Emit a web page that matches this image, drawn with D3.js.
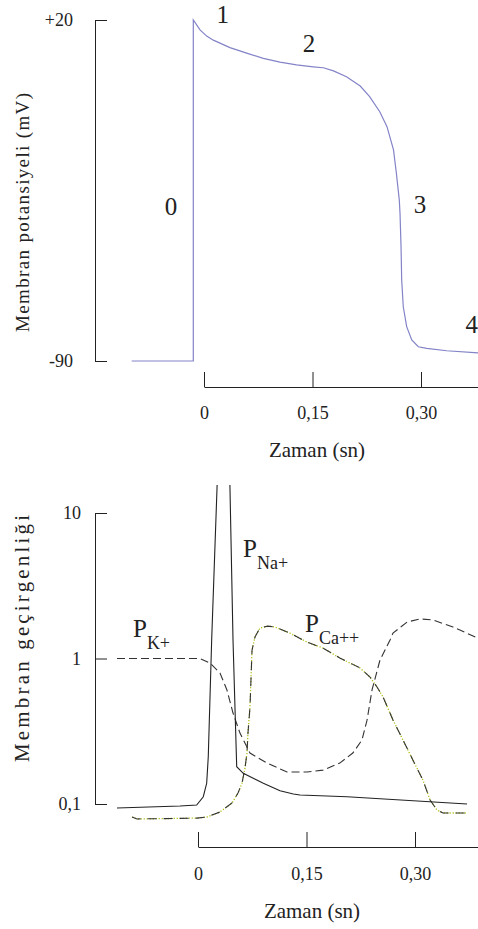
<!DOCTYPE html>
<html>
<head>
<meta charset="utf-8">
<script src="https://cdn.jsdelivr.net/npm/d3@7/dist/d3.min.js"></script>
<style>
body { margin: 0; background: #fff; }
svg, svg text { font-family: "Liberation Serif", "Times New Roman", Times, "DejaVu Serif", serif; }
</style>
</head>
<body>
<svg id="chart"></svg>
<script>
// --- ust grafik: aksiyon potansiyeli (zaman sn, mV)
var apTime = [-0.1, -0.0148, -0.0148, -0.0055, 0.0037, 0.0129, 0.0359, 0.059, 0.082, 0.105, 0.128, 0.151, 0.165, 0.179, 0.197, 0.216, 0.229, 0.243, 0.253, 0.262, 0.266, 0.270, 0.271, 0.2724, 0.2733, 0.2755, 0.2802, 0.2872, 0.2963, 0.3079, 0.3355, 0.3788]
var apVolt = [-90, -90, 20, 16.8, 14.8, 13.5, 11.1, 9.3, 7.6, 6.4, 5.5, 4.9, 4.6, 3.6, 1.7, -1.3, -4.7, -9.6, -14.4, -21.9, -29.5, -38.1, -42.4, -53.1, -63.9, -72.5, -78.9, -83.2, -85.4, -85.9, -86.7, -87.4]

var phaseText = ['0', '1', '2', '3', '4']
var phaseTime = [-0.0456, 0.026, 0.145, 0.2986, 0.370]
var phaseVolt = [-42.9, 19.0, 9.7, -42.3, -81]

var voltTicks = [20, -90]
var voltTickLabels = ['+20', '-90']

// --- alt grafik: membran gecirgenligi (log)
var naTime = [-0.112, -0.0249, -0.0018, 0.0073, 0.012, 0.0142, 0.0189, 0.0263, 0.0362, 0.0442, 0.0484, 0.0535, 0.0626, 0.0903, 0.1134, 0.1318, 0.141, 0.206, 0.372]
var naVal = [0.0939, 0.0969, 0.0984, 0.1122, 0.1388, 0.2114, 1.34, 14.86, 751, 14.86, 1.34, 0.1805, 0.1625, 0.1388, 0.1234, 0.1171, 0.1153, 0.1122, 0.100]

var kTime = [-0.112, 0.0028, 0.0166, 0.0304, 0.040, 0.0484, 0.058, 0.0719, 0.0954, 0.123, 0.1507, 0.1728, 0.196, 0.214, 0.2267, 0.2337, 0.2406, 0.2516, 0.2655, 0.2696, 0.289, 0.307, 0.325, 0.3525, 0.387]
var kVal = [1.0, 1.0, 0.93, 0.795, 0.608, 0.422, 0.307, 0.224, 0.191, 0.166, 0.166, 0.171, 0.191, 0.224, 0.275, 0.377, 0.608, 0.976, 1.34, 1.496, 1.78, 1.87, 1.84, 1.646, 1.38]

var caTime = [-0.0912, -0.0843, -0.0014, 0.0124, 0.0304, 0.047, 0.0553, 0.0608, 0.065, 0.0677, 0.0691, 0.0719, 0.0747, 0.0788, 0.0857, 0.0968, 0.1065, 0.127, 0.1507, 0.1728, 0.196, 0.224, 0.2378, 0.2475, 0.2558, 0.2696, 0.2834, 0.2972, 0.311, 0.3208, 0.3304, 0.3387, 0.372]
var caVal = [0.0814, 0.0789, 0.080, 0.0814, 0.0881, 0.1016, 0.119, 0.139, 0.177, 0.224, 0.308, 0.464, 1.14, 1.406, 1.62, 1.67, 1.646, 1.496, 1.297, 1.18, 1.008, 0.861, 0.746, 0.637, 0.544, 0.378, 0.275, 0.2, 0.146, 0.1065, 0.091, 0.0867, 0.0867]

var ionNames = ['K+', 'Na+', 'Ca++']
var ionLabelTime = [-0.0899, 0.0622, 0.148]
var ionLabelVal = [1.406, 4.98, 1.52]

var permTicks = [10, 1, 0.1]
var permTickLabels = ['10', '1', '0,1']

var timeTicks = [0, 0.15, 0.30]
var timeTickLabels = ['0', '0,15', '0,30']

var width = 478, height = 929
var serif = '"Liberation Serif", "Times New Roman", Times, "DejaVu Serif", serif'

var svg = d3.select('#chart')
	.attr('width', width)
	.attr('height', height)

svg.append('rect').attr('width', width).attr('height', height).attr('fill', '#fff')

function zip(a, b) {
	return a.map((d, i) => [d, b[i]])
}

// time axis that starts at 0 and runs off the right edge
function timeAxis(g, x, yPos, pad) {
	var xa = x.copy().domain([0, x.invert(width + 2)]).range([x(0), width + 2])
	g.attr('transform', 'translate(0,' + yPos + ')')
		.call(d3.axisBottom(xa)
			.tickValues(timeTicks)
			.tickFormat((d, i) => timeTickLabels[i])
			.tickSizeInner(-15)
			.tickSizeOuter(0)
			.tickPadding(pad))
	styleAxis(g)
}

function styleAxis(g) {
	g.attr('font-family', serif).attr('font-size', 18)
	g.selectAll('path, line').attr('stroke', '#222').attr('stroke-width', 1)
	g.selectAll('text').attr('fill', '#222').style('font-family', serif).style('font-size', '18px')
}

// ================= UST GRAFIK =================
var x1 = d3.scaleLinear().domain([0, 0.30]).range([204, 421])
var y1 = d3.scaleLinear().domain([-90, 20]).range([361, 20])

var yAx1 = svg.append('g')
	.attr('transform', 'translate(95,0)')
	.call(d3.axisLeft(y1)
		.tickValues(voltTicks)
		.tickFormat((d, i) => voltTickLabels[i])
		.tickSizeInner(-12)
		.tickSizeOuter(0)
		.tickPadding(22))
styleAxis(yAx1)

timeAxis(svg.append('g'), x1, 387, 19)

var line1 = d3.line()
	.x(d => x1(d[0]))
	.y(d => y1(d[1]))

svg.append('path')
	.datum(zip(apTime, apVolt))
	.attr('d', line1)
	.attr('fill', 'none')
	.attr('stroke', '#8383c8')
	.attr('stroke-width', 1.2)

svg.selectAll('.phase')
	.data(phaseText)
	.enter()
	.append('text')
		.attr('class', 'phase')
		.attr('x', (d, i) => x1(phaseTime[i]))
		.attr('y', (d, i) => y1(phaseVolt[i]))
		.attr('text-anchor', 'middle')
		.style('font-family', serif)
		.style('font-size', '25px')
		.attr('fill', '#222')
		.text(d => d)

svg.append('text')
	.attr('transform', 'translate(29,212.5) rotate(-90)')
	.attr('text-anchor', 'middle')
	.attr('textLength', 239)
	.attr('lengthAdjust', 'spacing')
	.style('font-family', serif)
	.style('font-size', '19px')
	.attr('fill', '#222')
	.text('Membran potansiyeli (mV)')

svg.append('text')
	.attr('x', 317)
	.attr('y', 457)
	.attr('text-anchor', 'middle')
	.style('font-family', serif)
	.style('font-size', '21px')
	.attr('fill', '#222')
	.text('Zaman (sn)')

// ================= ALT GRAFIK =================
var x2 = d3.scaleLinear().domain([0, 0.30]).range([198, 415])
var y2 = d3.scaleLog().domain([0.1, 10]).range([804, 513])

var yAx2 = svg.append('g')
	.attr('transform', 'translate(95,0)')
	.call(d3.axisLeft(y2)
		.tickValues(permTicks)
		.tickFormat((d, i) => permTickLabels[i])
		.tickSizeInner(-12)
		.tickSizeOuter(0)
		.tickPadding(14))
styleAxis(yAx2)

timeAxis(svg.append('g'), x2, 847, 20)

svg.append('defs').append('clipPath')
	.attr('id', 'clip')
	.append('rect')
		.attr('x', 0)
		.attr('y', 485)
		.attr('width', width)
		.attr('height', 340)

var plot2 = svg.append('g').attr('clip-path', 'url(#clip)')

var line2 = d3.line()
	.x(d => x2(d[0]))
	.y(d => y2(d[1]))

// P Ca++ : sari-yesil noktali + siyah kesik cizgi
plot2.append('path')
	.datum(zip(caTime, caVal))
	.attr('d', line2)
	.attr('fill', 'none')
	.attr('stroke', '#aebe14')
	.attr('stroke-width', 1.3)
	.attr('stroke-dasharray', '1.2,1.8')

plot2.append('path')
	.datum(zip(caTime, caVal))
	.attr('d', line2)
	.attr('fill', 'none')
	.attr('stroke', '#333')
	.attr('stroke-width', 1.1)
	.attr('stroke-dasharray', '9,7')

// P K+
plot2.append('path')
	.datum(zip(kTime, kVal))
	.attr('d', line2)
	.attr('fill', 'none')
	.attr('stroke', '#333')
	.attr('stroke-width', 1.1)
	.attr('stroke-dasharray', '8,4')

// P Na+
plot2.append('path')
	.datum(zip(naTime, naVal))
	.attr('d', line2)
	.attr('fill', 'none')
	.attr('stroke', '#222')
	.attr('stroke-width', 1.1)

var ionLab = svg.selectAll('.ion')
	.data(ionNames)
	.enter()
	.append('text')
		.attr('class', 'ion')
		.attr('x', (d, i) => x2(ionLabelTime[i]))
		.attr('y', (d, i) => y2(ionLabelVal[i]))
		.style('font-family', serif)
		.attr('fill', '#222')

ionLab.append('tspan')
	.style('font-size', '25px')
	.text('P')

ionLab.append('tspan')
	.attr('dy', 12)
	.style('font-size', '18px')
	.text(d => d)

svg.append('text')
	.attr('transform', 'translate(28.5,638.5) rotate(-90)')
	.attr('text-anchor', 'middle')
	.attr('textLength', 247)
	.attr('lengthAdjust', 'spacing')
	.style('font-family', serif)
	.style('font-size', '21px')
	.attr('fill', '#222')
	.text('Membran geçirgenliği')

svg.append('text')
	.attr('x', 312)
	.attr('y', 918)
	.attr('text-anchor', 'middle')
	.style('font-family', serif)
	.style('font-size', '21px')
	.attr('fill', '#222')
	.text('Zaman (sn)')
</script>
</body>
</html>
